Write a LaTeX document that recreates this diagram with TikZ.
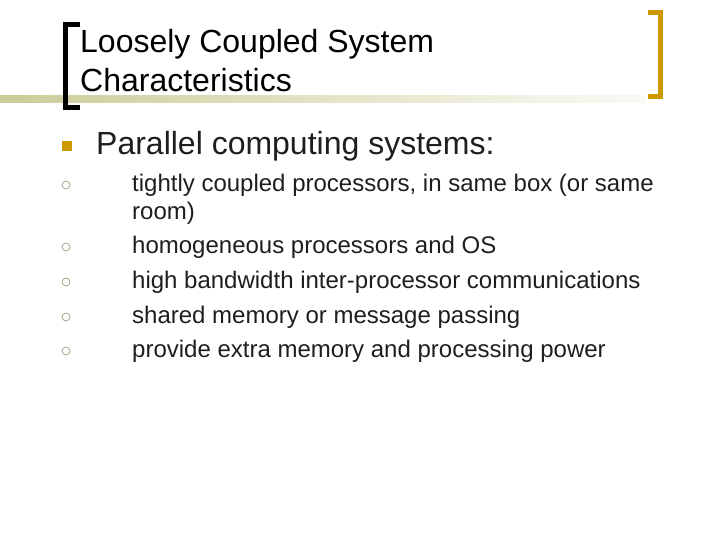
\documentclass[tikz,border=0pt]{standalone}
\usepackage{fontspec}
\setmainfont{Liberation Sans}
\definecolor{olivel}{RGB}{204,204,153}
\definecolor{gold}{RGB}{204,153,0}
\definecolor{txt}{RGB}{30,30,30}
\begin{document}
\begin{tikzpicture}[x=1pt,y=-1pt,
  ttl/.style={anchor=west,font=\fontsize{32}{36}\selectfont,text=black,inner sep=0},
  lvl1/.style={anchor=west,font=\fontsize{32}{36}\selectfont,text=txt,inner sep=0},
  lvl2/.style={anchor=west,font=\fontsize{24}{28}\selectfont,text=txt,inner sep=0},
  sub/.style={circle,draw=olivel!70!black,line width=0.6pt,minimum size=8pt,inner sep=0}]
\useasboundingbox (0,0) rectangle (720,540);
\shade[left color=olivel,right color=olivel!10] (0,96) rectangle (645,103);
\draw[line width=5pt,black] (80,24.5) -- (65.5,24.5) -- (65.5,107.5) -- (80,107.5);
\draw[line width=5pt,gold] (648,12.5) -- (660.5,12.5) -- (660.5,96.5) -- (648,96.5);
\node[ttl] (t1) at (80,44) {Loosely Coupled System};
\node[ttl] (t2) at (80,80) {Characteristics};
\node[fill=gold,minimum size=10pt,inner sep=0] (b0) at (67,146) {};
\node[lvl1] (l1) at (96,146) {Parallel computing systems:};
\foreach \y/\n in {185/s1,247/s2,282/s3,317/s4,351/s5} \node[sub] (\n) at (66,\y) {};
\node[lvl2] at (132,185) {tightly coupled processors, in same box (or same};
\node[lvl2] at (132,213) {room)};
\node[lvl2] at (132,247) {homogeneous processors and OS};
\node[lvl2] at (132,282) {high bandwidth inter-processor communications};
\node[lvl2] at (132,317) {shared memory or message passing};
\node[lvl2] at (132,351) {provide extra memory and processing power};
\end{tikzpicture}
\end{document}
